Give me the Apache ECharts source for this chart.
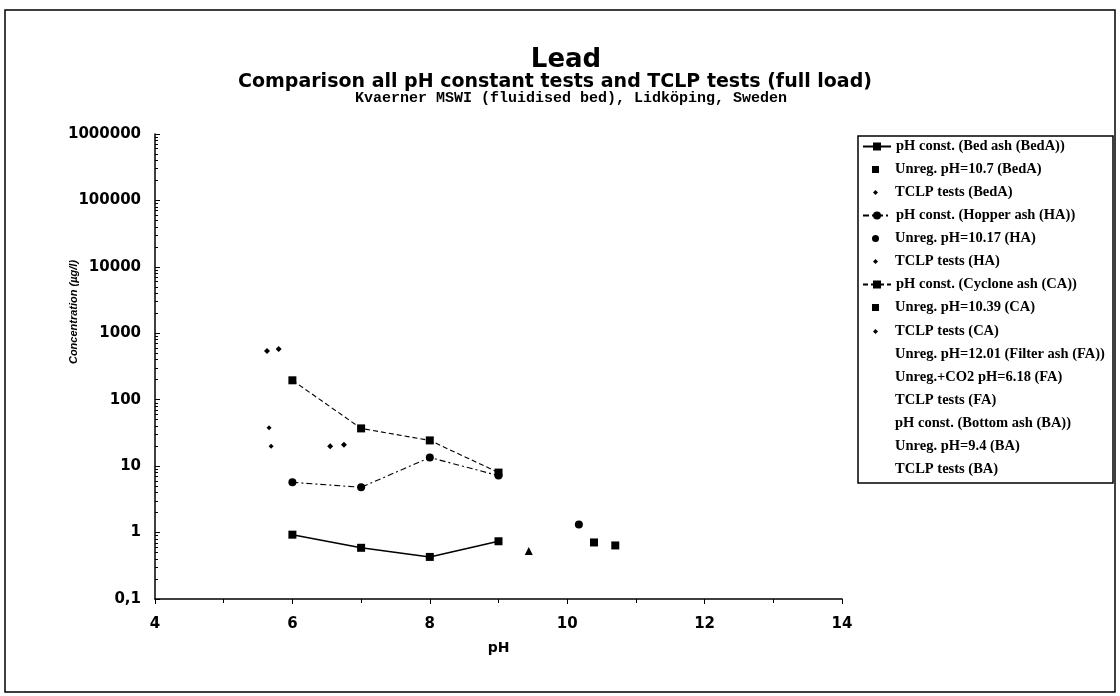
<!DOCTYPE html>
<html><head><meta charset="utf-8">
<script src="https://cdn.jsdelivr.net/npm/echarts@6/dist/echarts.min.js"></script>
<style>html,body{margin:0;padding:0;background:#fff}#c{width:1120px;height:696px}</style>
</head><body><div id="c"></div>
<script>
const xTicks = [4, 6, 8, 10, 12, 14];
const yTicks = [0.1, 1, 10, 100, 1000, 10000, 100000, 1000000];

const bedAConst = [[6, 0.93], [7, 0.59], [8, 0.43], [9, 0.74]];
const bedAUnreg = [[10.7, 0.64]];
const bedATclp = [[6.55, 20], [6.75, 21]];
const haConst = [[6, 5.7], [7, 4.8], [8, 13.5], [9, 7.2]];
const haUnreg = [[10.17, 1.32]];
const haTclp = [[5.66, 38], [5.69, 20]];
const caConst = [[6, 196], [7, 37], [8, 24.4], [9, 8.0]];
const caUnreg = [[10.39, 0.71]];
const caTclp = [[5.63, 540], [5.80, 580]];
const faUnreg = [];
const faCo2 = [];
const faTclp = [];
const baConst = [];
const baUnreg = [[9.44, 0.53]];
const baTclp = [];

const names = [
  'pH const. (Bed ash (BedA))', 'Unreg. pH=10.7 (BedA)', 'TCLP tests (BedA)',
  'pH const. (Hopper ash (HA))', 'Unreg. pH=10.17 (HA)', 'TCLP tests (HA)',
  'pH const. (Cyclone ash (CA))', 'Unreg. pH=10.39 (CA)', 'TCLP tests (CA)',
  'Unreg. pH=12.01 (Filter ash (FA))', 'Unreg.+CO2 pH=6.18 (FA)', 'TCLP tests (FA)',
  'pH const. (Bottom ash (BA))', 'Unreg. pH=9.4 (BA)', 'TCLP tests (BA)'
];
// legend icon kind per entry: 'line', 'sq', 'dot', 'tclp', 'none'
const legendKind = ['line', 'sq', 'tclp', 'line', 'dot', 'tclp', 'line', 'sq', 'tclp',
  'none', 'none', 'none', 'none', 'none', 'none'];

const K = '#000';
function lineS(name, data, type, symbol, size) {
  return { name, type: 'line', data, symbol, symbolSize: size,
    lineStyle: { color: K, width: type === 'solid' ? 1.6 : 1.1, type },
    itemStyle: { color: K, opacity: 1 }, z: 3 };
}
function scat(name, data, symbol, size) {
  return { name, type: 'scatter', data, symbol, symbolSize: size, itemStyle: { color: K, opacity: 1 }, z: 4 };
}

const legendFont = { fontFamily: 'Liberation Serif', fontWeight: 'bold', fontSize: 14.5, color: K };
const legends = names.map((n, i) => {
  const kind = legendKind[i];
  const top = Math.round(139 + i * 23.07);
  if (kind === 'line') {
    return { data: [n], left: 862, top, padding: 0, itemWidth: 28, itemHeight: 10,
      textStyle: legendFont };
  }
  const w = kind === 'tclp' ? 5 : 7;
  const left = Math.round(875 - w / 2);
  const pad = 895 - (left + w + 5);
  const item = { name: n };
  if (kind === 'none') { item.itemStyle = { opacity: 0 }; item.lineStyle = { opacity: 0 }; item.icon = 'rect'; }
  if (kind === 'tclp') item.icon = 'diamond';
  if (kind === 'sq') item.icon = 'rect';
  if (kind === 'dot') item.icon = 'circle';
  return { data: [item], left, top, padding: 0, itemWidth: w, itemHeight: w,
    textStyle: Object.assign({}, legendFont, { padding: [0, 0, 0, pad] }) };
});

const chart = echarts.init(document.getElementById('c'));
chart.setOption({
  animation: false,
  backgroundColor: '#fff',
  title: [
    { text: 'Lead', left: 561, top: 42, textAlign: 'center',
      textStyle: { fontFamily: 'DejaVu Sans', fontWeight: 'bold', fontSize: 26, color: K } },
    { text: 'Comparison all pH constant tests and TCLP tests (full load)', left: 550, top: 68, textAlign: 'center',
      textStyle: { fontFamily: 'DejaVu Sans', fontWeight: 'bold', fontSize: 19, color: K } },
    { text: 'Kvaerner MSWI (fluidised bed), Lidköping, Sweden', left: 566, top: 86, textAlign: 'center',
      textStyle: { fontFamily: 'Liberation Mono', fontWeight: 'bold', fontSize: 15, color: K } }
  ],
  graphic: [
    { type: 'rect', shape: { x: 5, y: 10, width: 1110, height: 682 }, style: { fill: 'none', stroke: K, lineWidth: 1.5 }, silent: true },
    { type: 'rect', shape: { x: 858, y: 136, width: 255, height: 347 }, style: { fill: 'none', stroke: K, lineWidth: 1.5 }, silent: true },
    { type: 'text', x: 74, y: 312, rotation: Math.PI / 2, style: { text: 'Concentration (µg/l)', fill: K,
      font: 'italic bold 11px "Liberation Sans"', align: 'center', verticalAlign: 'middle' } }
  ],
  legend: legends,
  grid: { left: 155, right: 278, top: 134, bottom: 97 },
  xAxis: {
    type: 'value', min: 4, max: 14, interval: 2,
    name: 'pH', nameLocation: 'middle', nameGap: 42,
    nameTextStyle: { fontFamily: 'DejaVu Sans', fontWeight: 'bold', fontSize: 14, color: K },
    axisLine: { lineStyle: { color: K, width: 1.5 } },
    axisTick: { show: true, length: 5, lineStyle: { color: K } },
    minorTick: { show: true, splitNumber: 2, length: 4, lineStyle: { color: K } },
    axisLabel: { margin: 18, fontFamily: 'DejaVu Sans', fontWeight: 'bold', fontSize: 15, color: K,
      customValues: xTicks },
    splitLine: { show: false }
  },
  yAxis: {
    type: 'log', logBase: 10, min: 0.1, max: 1000000,
    axisLine: { show: true, lineStyle: { color: K, width: 1.5 } },
    axisTick: { show: true, length: 5, inside: true, lineStyle: { color: K } },
    minorTick: { show: true, splitNumber: 9, length: 3, lineStyle: { color: K } },
    axisLabel: { margin: 14, fontFamily: 'DejaVu Sans', fontWeight: 'bold', fontSize: 15, color: K,
      formatter: v => (v < 1 ? String(v).replace('.', ',') : String(Math.round(v))) },
    splitLine: { show: false }
  },
  series: [
    lineS(names[0], bedAConst, 'solid', 'rect', 8),
    scat(names[1], bedAUnreg, 'rect', 8),
    scat(names[2], bedATclp, 'diamond', 6),
    lineS(names[3], haConst, [6, 3, 2, 3], 'circle', 8),
    scat(names[4], haUnreg, 'circle', 8),
    scat(names[5], haTclp, 'diamond', 5),
    lineS(names[6], caConst, [5, 3], 'rect', 8),
    scat(names[7], caUnreg, 'rect', 8),
    scat(names[8], caTclp, 'diamond', 6),
    scat(names[9], faUnreg, 'rect', 8),
    scat(names[10], faCo2, 'rect', 8),
    scat(names[11], faTclp, 'diamond', 6),
    lineS(names[12], baConst, 'solid', 'rect', 8),
    scat(names[13], baUnreg, 'triangle', 8),
    scat(names[14], baTclp, 'diamond', 6)
  ]
});
</script></body></html>
